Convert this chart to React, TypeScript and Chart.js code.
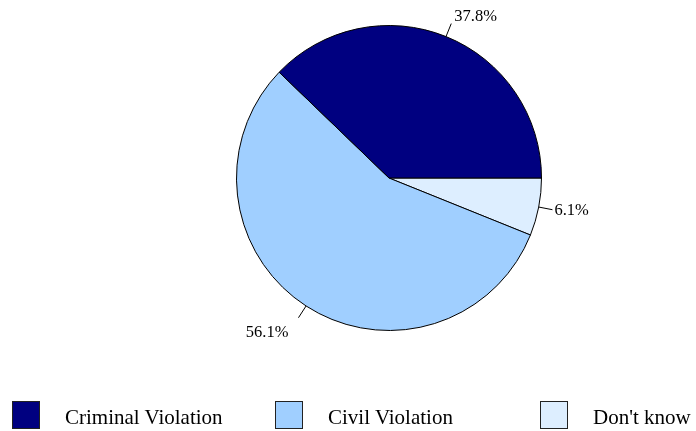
import React, { useEffect, useRef } from "react";
import { Chart, registerables } from "chart.js";

Chart.register(...registerables);

const categories = ["Criminal Violation", "Civil Violation", "Don't know"];
const values = [37.8, 56.1, 6.1];
const colors = ["#000080", "#A0CFFF", "#DDEEFF"];
const legendX = [12, 275, 540];

const labelPlugin = {
  id: "pieLabels",
  afterDatasetsDraw(chart: any) {
    const ctx = chart.ctx;
    const meta = chart.getDatasetMeta(0);
    const data = chart.data.datasets[0].data as number[];
    ctx.save();
    ctx.font = "16.5px 'Liberation Serif', 'Times New Roman', serif";
    ctx.fillStyle = "#000";
    ctx.strokeStyle = "#000";
    ctx.lineWidth = 1;
    meta.data.forEach((arc: any, i: number) => {
      const { x, y, startAngle, endAngle, outerRadius } = arc.getProps(
        ["x", "y", "startAngle", "endAngle", "outerRadius"],
        true
      );
      const mid = (startAngle + endAngle) / 2;
      const c = Math.cos(mid);
      const s = Math.sin(mid);
      const x0 = x + c * outerRadius;
      const y0 = y + s * outerRadius;
      const len = 14;
      const x1 = x + c * (outerRadius + len);
      const y1 = y + s * (outerRadius + len);
      ctx.beginPath();
      ctx.moveTo(x0, y0);
      ctx.lineTo(x1, y1);
      ctx.stroke();
      const sign = c >= 0 ? 1 : -1;
      ctx.textAlign = sign > 0 ? "left" : "right";
      let tx = x1;
      let ty = y1;
      if (s < -0.5) {
        ctx.textBaseline = "alphabetic";
        tx = x1 + sign * 3;
        ty = y1 - 3;
      } else if (s > 0.5) {
        ctx.textBaseline = "top";
        tx = x1 + sign * 10;
        ty = y1 + 7;
      } else {
        ctx.textBaseline = "middle";
        tx = x1 + sign * 2;
        ty = y1 + 1;
      }
      ctx.fillText(data[i].toFixed(1) + "%", tx, ty);
    });
    ctx.restore();
  },
};

export default function App() {
  const ref = useRef<HTMLCanvasElement | null>(null);

  useEffect(() => {
    if (!ref.current) return;
    // Chart.js draws slices clockwise; reference goes counter-clockwise from east
    const order = [2, 1, 0];
    const chart = new Chart(ref.current, {
      type: "pie",
      data: {
        labels: order.map((i) => categories[i]),
        datasets: [
          {
            data: order.map((i) => values[i]),
            backgroundColor: order.map((i) => colors[i]),
            borderColor: "#000",
            borderWidth: 1,
          },
        ],
      },
      options: {
        responsive: false,
        animation: false,
        rotation: 90,
        layout: { padding: { left: 236, right: 154, top: 25, bottom: 100 } },
        plugins: {
          legend: { display: false },
          tooltip: { enabled: false },
        },
      },
      plugins: [labelPlugin],
    });
    return () => chart.destroy();
  }, []);

  return (
    <div
      style={{
        position: "absolute",
        left: 0,
        top: 0,
        width: 696,
        height: 431,
        background: "#fff",
      }}
    >
      <canvas ref={ref} width={696} height={431} style={{ display: "block" }} />
      {categories.map((c, i) => (
        <div
          key={c}
          style={{ position: "absolute", left: legendX[i], top: 401, height: 28 }}
        >
          <div
            style={{
              position: "absolute",
              left: 0,
              top: 0,
              width: 26,
              height: 26,
              border: "1px solid #222",
              background: colors[i],
            }}
          />
          <span
            style={{
              position: "absolute",
              left: 53,
              top: 2,
              whiteSpace: "nowrap",
              font: "21px 'Liberation Serif', 'Times New Roman', serif",
              lineHeight: "28px",
              color: "#000",
            }}
          >
            {c}
          </span>
        </div>
      ))}
    </div>
  );
}
